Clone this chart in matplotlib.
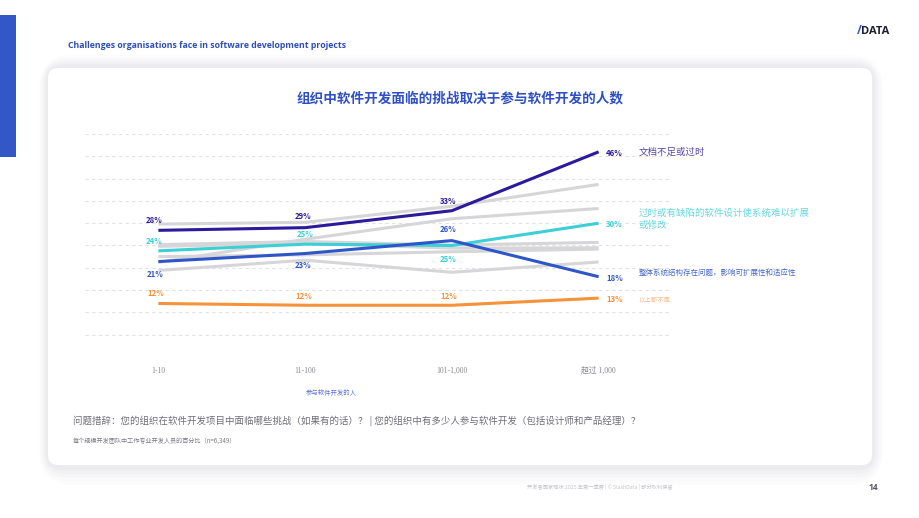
import matplotlib.pyplot as plt
from matplotlib.patches import FancyBboxPatch, Rectangle

plt.rcParams['font.family'] = ['Noto Sans CJK SC', 'DejaVu Sans']

# 数据（从图中读取，单位 %）
categories = ["1-10", "11-100", "101-1,000", "超过 1,000"]

docs = [28.4, 29.0, 32.8, 46.0]        # 文档不足或过时
design = [23.8, 25.3, 25.0, 30.0]      # 过时或有缺陷的软件设计
arch = [21.4, 23.2, 26.1, 18.0]        # 整体系统结构存在问题
none_above = [12.0, 11.6, 11.6, 13.2]  # 以上都不是

# 其余挑战（灰色背景线）
gray_1 = [29.8, 30.2, 33.8, 38.7]
gray_2 = [21.2, 26.4, 31.0, 33.3]
gray_3 = [25.2, 25.9, 25.1, 25.7]
gray_4 = [24.8, 25.5, 24.4, 24.5]
gray_5 = [22.5, 22.9, 23.6, 24.2]
gray_6 = [19.4, 21.7, 19.0, 21.3]

names = ["文档不足或过时",
         "过时或有缺陷的软件设计使系统难以扩展\n或修改",
         "整体系统结构存在问题，影响可扩展性和适应性",
         "以上都不是"]

# 样式
colors = ["#2b1a9c", "#3ccfd6", "#2f56c9", "#f5923a"]
name_colors = ["#5546ad", "#66d7de", "#4667cb", "#f8bd8a"]
name_sizes = [6.8, 6.8, 5.4, 4.6]
name_dy = [0, 4, 4, -2]
# 数值标签偏移（像素）
label_offsets = [
    [(-4, 10), (-2, 11), (-4, 9), (16, -2)],
    [(-4, 9), (0, 10), (-4, -14), (16, -1)],
    [(-3, -13), (-2, -12), (-4, 11), (16, -2)],
    [(-3, 10), (-1, 9), (-3, 9), (16, -1)],
]

W, H = 920, 518
fig = plt.figure(figsize=(W / 100, H / 100), dpi=100)
fig.patch.set_facecolor("white")

# 背景层（像素坐标）
bg = fig.add_axes([0, 0, 1, 1], zorder=0)
bg.set_xlim(0, W)
bg.set_ylim(H, 0)
bg.axis("off")

# 卡片阴影
for i, a in enumerate([0.018, 0.022, 0.028, 0.035, 0.045]):
    pad = 22 - i * 4
    bg.add_patch(FancyBboxPatch((48 - pad * 0.4, 68 - pad * 0.6), 824 + pad * 0.9, 397 + pad * 1.5,
                                boxstyle="round,pad=0,rounding_size=%d" % (12 + pad),
                                fc="#8a8aa0", ec="none", alpha=a))
bg.add_patch(FancyBboxPatch((48, 68), 824, 397, boxstyle="round,pad=0,rounding_size=10",
                            fc="white", ec="none"))
bg.add_patch(Rectangle((0, 15), 16, 142, fc="#3457c8", ec="none"))

bg.text(68, 46, "Challenges organisations face in software development projects",
        fontsize=6.3, fontweight="bold", color="#2f4fb8", va="center",
        family=["Open Sans", "DejaVu Sans"])
bg.text(857, 31, "/", fontsize=8.5, fontweight="bold", color="#2f56c9", va="center",
        family=["Open Sans", "DejaVu Sans"])
bg.text(861, 31, "DATA", fontsize=8, fontweight="bold", color="#1e1e2e", va="center",
        family=["Open Sans", "DejaVu Sans"])
bg.text(460, 98, "组织中软件开发面临的挑战取决于参与软件开发的人数",
        fontsize=9.8, fontweight="bold", color="#2f50c4", ha="center", va="center")
bg.text(331, 393, "参与软件开发的人", fontsize=4.6, color="#5b74d4", ha="center", va="center")
bg.text(73, 421, "问题措辞：您的组织在软件开发项目中面临哪些挑战（如果有的话）？ | "
        "您的组织中有多少人参与软件开发（包括设计师和产品经理）？",
        fontsize=6.8, color="#6e6e76", va="center")
bg.text(73, 441, "每个规模开发团队中工作专业开发人员的百分比（n=6,349）",
        fontsize=4.4, color="#7a7a82", va="center")
bg.text(600, 487, "开发者国家现状 2025 年第一季度 | © SlashData | 部分权利保留",
        fontsize=3.8, color="#c4c4cc", ha="center", va="center")
bg.text(873, 488, "14", fontsize=6, fontweight="bold", color="#555560", ha="center", va="center",
        family=["Open Sans", "DejaVu Sans"])

# 主图
ax = fig.add_axes([85 / W, 1 - 357 / H, (672 - 85) / W, (357 - 134) / H], zorder=2)
ax.patch.set_alpha(0)
x = list(range(len(categories)))

for g in [gray_1, gray_2, gray_3, gray_4, gray_5, gray_6]:
    ax.plot(x, g, color="#d6d6d8", lw=2.2, solid_capstyle="butt", zorder=2)

series = [docs, design, arch, none_above]
for s, c, offs, nm, nc, ns, dy in zip(series, colors, label_offsets, names,
                                      name_colors, name_sizes, name_dy):
    ax.plot(x, s, color=c, lw=2.2, solid_capstyle="butt", zorder=3)
    for xi, v, off in zip(x, s, offs):
        ax.annotate(f"{v:.0f}%", (xi, v), xytext=off, textcoords="offset pixels",
                    ha="center", va="center", fontsize=5.6, fontweight="bold", color=c)
    ax.annotate(nm, (x[-1], s[-1]), xytext=(40, dy), textcoords="offset pixels",
                ha="left", va="center", fontsize=ns, color=nc, linespacing=1.5,
                annotation_clip=False)

ax.set_xlim(-0.5, 3.5)
ax.set_ylim(0, 50)
ax.set_yticks(range(0, 51, 5))
ax.grid(axis="y", color="#e2e2e6", lw=0.8, ls=(0, (3, 3)))
ax.set_xticks(x)
ax.set_xticklabels(categories, fontsize=5.6, color="#8a8a90",
                   family=["Liberation Serif", "Noto Sans CJK SC"])
ax.tick_params(axis="x", length=0, pad=7)
ax.tick_params(axis="y", length=0, labelleft=False)
for sp in ax.spines.values():
    sp.set_visible(False)

fig.savefig("out.png", dpi=100)
